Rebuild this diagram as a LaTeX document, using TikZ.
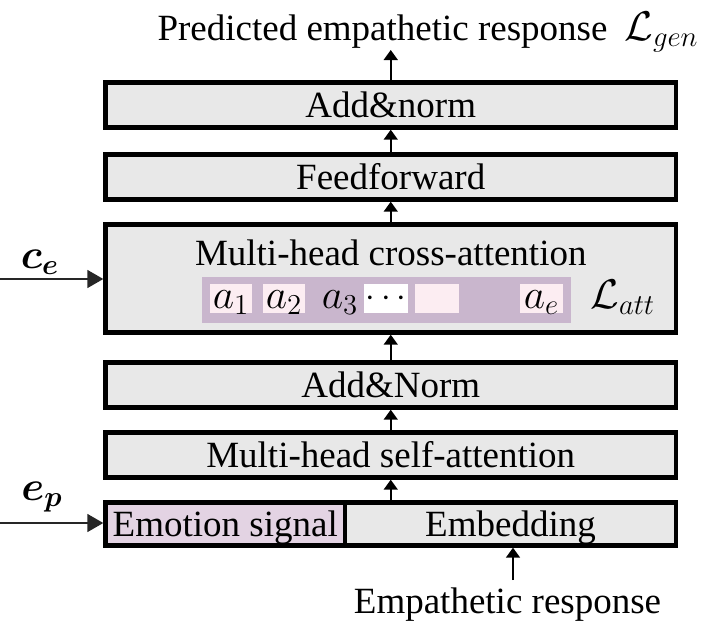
\documentclass[tikz,border=0pt]{standalone}
\usepackage{fontspec}
\setmainfont{Liberation Serif}
\usepackage{bm}
\usetikzlibrary{arrows.meta}
\definecolor{boxgray}{HTML}{E8E8E8}
\definecolor{strip}{HTML}{C9B6CD}
\definecolor{pinkbox}{HTML}{FCEDF2}
\definecolor{emofill}{HTML}{E3D3E3}
\tikzset{
  layer/.style={draw=black, line width=2.2pt, fill=boxgray, minimum width=285.25pt, minimum height=22.5pt, inner sep=0pt},
  lbl/.style={font=\fontsize{18.5}{22}\selectfont, inner sep=0pt, text height=12.2pt, text depth=0pt},
  mlbl/.style={font=\fontsize{18.5}{22}\selectfont, inner sep=0pt},
  bigm/.style={font=\fontsize{22}{26}\selectfont, inner sep=0pt},
  vup/.style={line width=0.8pt, -{Triangle[length=5pt,width=7pt]}},
  side/.style={line width=0.8pt, draw=black!85, -{Triangle[length=8pt,width=9pt]}},
  abox/.style={fill=pinkbox, minimum width=21pt, minimum height=14.5pt, inner sep=0pt},
}
\begin{document}
\begin{tikzpicture}[x=0.5pt,y=-0.5pt]
\useasboundingbox (0,0) rectangle (707,622);
% layers
\node[layer] (B1) at (390.75,105) {};
\node[layer] (B2) at (390.75,177) {};
\node[layer, minimum height=54pt] (B3) at (390.75,278.5) {};
\node[layer] (B4) at (390.75,385) {};
\node[layer] (B5) at (390.75,455) {};
\node[layer, fill=emofill, minimum width=119.75pt, minimum height=21.5pt] (emo) at (225.25,524) {};
\node[layer, minimum width=165.5pt, minimum height=21.5pt] (emb) at (510.5,524) {};
% layer texts
\node[lbl] (t1) at (390.75,105) {Add\&norm};
\node[lbl] (t2) at (390.75,177) {Feedforward};
\node[lbl] (t3) at (390.75,253) {Multi-head cross-attention};
\node[lbl] (t4) at (390.75,385) {Add\&Norm};
\node[lbl] (t5) at (390.75,455) {Multi-head self-attention};
\node[lbl] (t6) at (225.25,524) {Emotion signal};
\node[lbl] (t7) at (510.5,524) {Embedding};
% attention strip
\node[fill=strip, minimum width=184.5pt, minimum height=23pt, inner sep=0pt] (strip) at (386.5,300) {};
\node[abox] (k1) at (231,298.5) {};
\node[abox] (k2) at (284,298.5) {};
\node[abox, fill=white, minimum width=22pt] (k3) at (386,298.5) {};
\node[abox, minimum width=22pt] (k4) at (437,298.5) {};
\node[abox, minimum width=21.5pt] (k5) at (541.5,298.5) {};
\node[bigm, anchor=base] (a1) at (231,308) {$a_1$};
\node[bigm, anchor=base] (a2) at (284,308) {$a_2$};
\node[bigm, anchor=base] (a3) at (340,308) {$a_3$};
\node[mlbl] (dots) at (386,298.5) {$\cdots$};
\node[bigm, anchor=base] (ae) at (541.5,308) {$a_e$};
\node[bigm, anchor=base west] (Latt) at (590,308) {$\mathcal{L}_{att}$};
% top / bottom texts
\node[mlbl, anchor=base] (pred) at (382.5,40) {Predicted empathetic response};
\node[bigm, anchor=base west] (Lgen) at (624,40) {$\mathcal{L}_{gen}$};
\node[mlbl, anchor=base] (resp) at (507.5,613) {Empathetic response};
\node[bigm] (ce) at (40,262) {$\bm{c_e}$};
\node[bigm] (ep) at (42,497) {$\bm{e_p}$};
% arrows
\coordinate (topend) at (390.75,50);
\coordinate (botstart) at (513,580);
\coordinate (ce0) at (0,279);
\coordinate (ep0) at (0,523);
\draw[vup] (B1.north) -- (topend);
\draw[vup] (B2.north) -- (B1.south);
\draw[vup] (B3.north) -- (B2.south);
\draw[vup] (B4.north) -- (B3.south);
\draw[vup] (B5.north) -- (B4.south);
\draw[vup] (B5.south |- emb.north) -- (B5.south);
\draw[vup] (botstart) -- (botstart |- emb.south);
\draw[side] (ce0) -- (ce0 -| B3.west);
\draw[side] (ep0) -- (ep0 -| emo.west);
\end{tikzpicture}
\end{document}
